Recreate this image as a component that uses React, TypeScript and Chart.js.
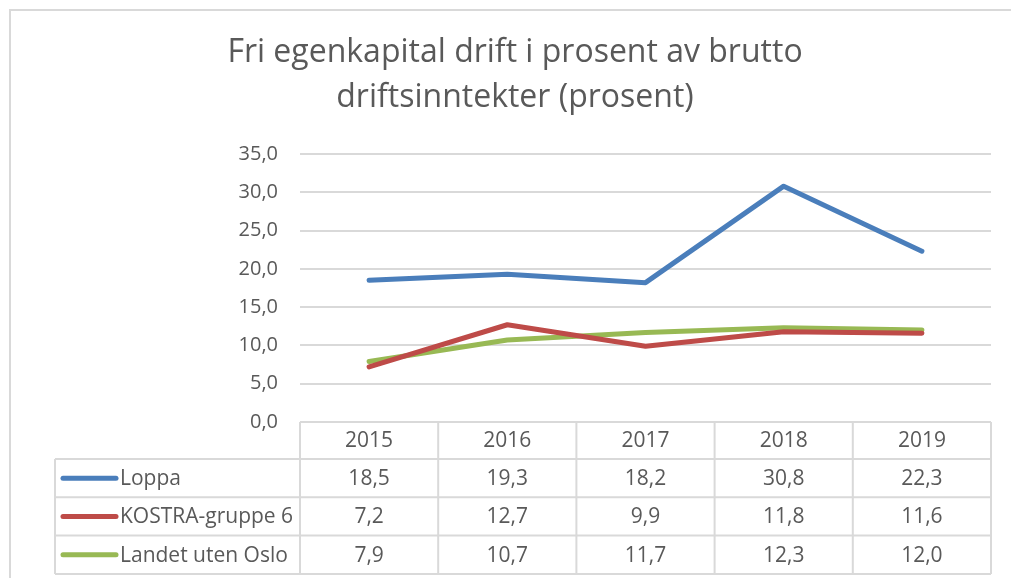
import React, { useEffect, useRef } from "react";
import { Chart, registerables } from "chart.js";

Chart.register(...registerables);

const titleLines = ["Fri egenkapital drift i prosent av brutto", "driftsinntekter (prosent)"];
const years = ["2015", "2016", "2017", "2018", "2019"];
const seriesNames = ["Loppa", "KOSTRA-gruppe 6", "Landet uten Oslo"];
const loppa = [18.5, 19.3, 18.2, 30.8, 22.3];
const kostra = [7.2, 12.7, 9.9, 11.8, 11.6];
const landet = [7.9, 10.7, 11.7, 12.3, 12.0];
const seriesColors = ["#4a7ebb", "#be4b48", "#98b954"];
const yMin = 0;
const yMax = 35;
const yStep = 5;

const TEXT = "#595959";
const GRID = "#d9d9d9";
const FONT = "'Open Sans', 'Noto Sans', sans-serif";

const fmt = (v: number) => v.toFixed(1).replace(".", ",");

const tablePlugin = {
  id: "excelTable",
  beforeDraw(chart: any) {
    const ctx = chart.ctx;
    ctx.save();
    ctx.fillStyle = "#ffffff";
    ctx.fillRect(0, 0, chart.width, chart.height);
    // outer chart border
    ctx.strokeStyle = GRID;
    ctx.lineWidth = 2;
    ctx.beginPath();
    ctx.moveTo(10, chart.height + 2);
    ctx.lineTo(10, 10);
    ctx.lineTo(chart.width + 2, 10);
    ctx.stroke();
    // title
    ctx.fillStyle = TEXT;
    ctx.font = `32px ${FONT}`;
    ctx.textAlign = "center";
    ctx.textBaseline = "alphabetic";
    const cx = 515;
    ctx.fillText(titleLines[0], cx, 62);
    ctx.fillText(titleLines[1], cx, 107);
    ctx.restore();
  },
  afterDraw(chart: any) {
    const ctx = chart.ctx;
    const area = chart.chartArea;
    const xs = chart.scales.x;
    const top = area.bottom;
    const headerH = 37;
    const rowH = 38.3;
    const legendLeft = 55;
    const n = years.length;
    const colW = (area.right - area.left) / n;
    const data = chart.data.datasets;
    const tableBottom = top + headerH + rowH * data.length;

    ctx.save();
    ctx.strokeStyle = GRID;
    ctx.lineWidth = 2;
    ctx.beginPath();
    ctx.moveTo(area.left, top);
    ctx.lineTo(area.right, top);
    for (let i = 0; i <= n; i++) {
      const x = area.left + colW * i;
      ctx.moveTo(x, top);
      ctx.lineTo(x, tableBottom);
    }
    for (let r = 0; r <= data.length; r++) {
      const y = top + headerH + rowH * r;
      ctx.moveTo(legendLeft, y);
      ctx.lineTo(area.right, y);
    }
    ctx.moveTo(legendLeft, top + headerH);
    ctx.lineTo(legendLeft, tableBottom);
    ctx.stroke();

    ctx.fillStyle = TEXT;
    ctx.font = `21px ${FONT}`;
    ctx.textAlign = "center";
    ctx.textBaseline = "middle";
    for (let i = 0; i < n; i++) {
      const x = xs.getPixelForValue(i);
      ctx.fillText(years[i], x, top + headerH / 2 + 1);
    }
    data.forEach((ds: any, r: number) => {
      const cy = top + headerH + rowH * r + rowH / 2;
      ctx.strokeStyle = ds.borderColor;
      ctx.lineWidth = 5;
      ctx.lineCap = "round";
      ctx.beginPath();
      ctx.moveTo(63, cy);
      ctx.lineTo(116, cy);
      ctx.stroke();
      ctx.textAlign = "left";
      ctx.fillText(ds.label, 120, cy + 1);
      ctx.textAlign = "center";
      ds.data.forEach((v: number, i: number) => {
        ctx.fillText(fmt(v), xs.getPixelForValue(i), cy + 1);
      });
    });
    ctx.restore();
  },
};

export default function App() {
  const ref = useRef<HTMLCanvasElement | null>(null);
  useEffect(() => {
    if (!ref.current) return;
    const chart = new Chart(ref.current, {
      type: "line",
      data: {
        labels: years,
        datasets: [
          { label: seriesNames[0], data: loppa, borderColor: seriesColors[0] },
          { label: seriesNames[1], data: kostra, borderColor: seriesColors[1] },
          { label: seriesNames[2], data: landet, borderColor: seriesColors[2] },
        ].map((d) => ({
          ...d,
          backgroundColor: d.borderColor,
          borderWidth: 5,
          pointRadius: 0,
          pointHoverRadius: 0,
          tension: 0,
          borderJoinStyle: "round" as const,
          borderCapStyle: "round" as const,
        })),
      },
      options: {
        animation: false,
        responsive: false,
        layout: { padding: { top: 154, bottom: 156, left: 0, right: 20 } },
        plugins: {
          legend: { display: false },
          title: { display: false },
          tooltip: { enabled: false },
        },
        scales: {
          x: { display: false, offset: true },
          y: {
            min: yMin,
            max: yMax,
            afterFit: (scale: any) => {
              scale.width = 300;
            },
            ticks: {
              stepSize: yStep,
              color: TEXT,
              font: { family: FONT, size: 20 },
              padding: 22,
              callback: (v: any) => fmt(Number(v)),
            },
            grid: { color: GRID, lineWidth: 2, drawTicks: false },
            border: { display: false },
          },
        },
      },
      plugins: [tablePlugin],
    });
    return () => chart.destroy();
  }, []);
  return (
    <div style={{ position: "fixed", left: 0, top: 0, width: 1011, height: 578, background: "#fff" }}>
      <canvas ref={ref} width={1011} height={578} />
    </div>
  );
}
